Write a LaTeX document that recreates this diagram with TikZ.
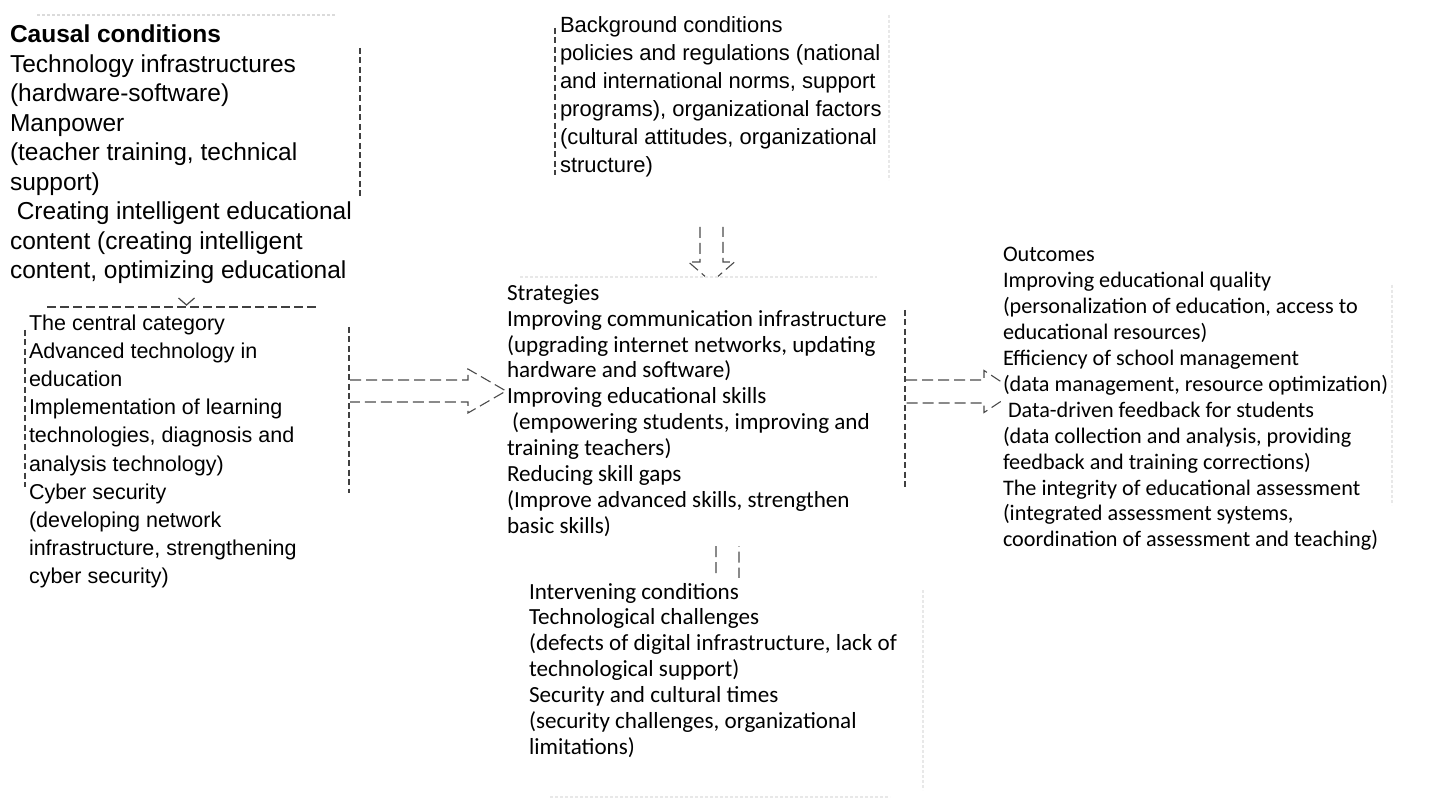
\documentclass[tikz,border=0pt]{standalone}
\usepackage{fontspec}
\setmainfont{Liberation Sans}
\newfontfamily\calibrifont{Carlito}
\usetikzlibrary{calc}

% hollow dashed block arrows: #1 start, #2 tip, #3 half shaft, #4 half head, #5 head length
\newcommand\blockarrowright[5]{%
  \draw[flow] ($(#1)+(0,-#3)$) -- ($(#2)+(-#5,-#3)$) -- ($(#2)+(-#5,-#4)$) -- (#2)
    -- ($(#2)+(-#5,#4)$) -- ($(#2)+(-#5,#3)$) -- ($(#1)+(0,#3)$);}
\newcommand\blockarrowdown[5]{%
  \draw[flow] ($(#1)+(-#3,0)$) -- ($(#2)+(-#3,-#5)$) -- ($(#2)+(-#4,-#5)$) -- (#2)
    -- ($(#2)+(#4,-#5)$) -- ($(#2)+(#3,-#5)$) -- ($(#1)+(#3,0)$);}

\begin{document}
\begin{tikzpicture}[x=1pt,y=-1pt,
  panel/.style={fill=white, draw=none, inner sep=0pt, outer sep=0pt, anchor=north west},
  txt/.style={anchor=north west, inner sep=0pt, outer sep=0pt, align=left, text=black},
  causalfont/.style={font=\fontsize{24.5pt}{29.5pt}\selectfont},
  centralfont/.style={font=\fontsize{21.5pt}{28.1pt}\selectfont},
  backfont/.style={font=\fontsize{22pt}{28pt}\selectfont},
  calfont/.style={font=\calibrifont\fontsize{23.1pt}{25.9pt}\selectfont},
  calfontsmall/.style={font=\calibrifont\fontsize{22.2pt}{25.9pt}\selectfont},
  edgeline/.style={draw=black!75, line width=1.2pt, dash pattern=on 6pt off 3.5pt},
  faint/.style={draw=black!9, line width=1.1pt, dash pattern=on 3pt off 2pt},
  flow/.style={draw=black!70, line width=1.1pt, dash pattern=on 11pt off 5pt, line join=miter},
  tipline/.style={draw=black!72, line width=1.2pt}]

\useasboundingbox (0,0) rectangle (1430,799);
\fill[white] (0,0) rectangle (1430,799);

% ---- causal conditions ----
\node[txt, causalfont] (causal) at (10,25) {\textbf{Causal conditions}\\
Technology infrastructures\\
(hardware-software)\\
Manpower\\
(teacher training, technical\\
support)\\
\ Creating intelligent educational\\
content (creating intelligent\\
content, optimizing educational};
\draw[faint, draw=black!14] (37,15) -- (335,15);
\draw[edgeline] (360,48) -- (360,200);

% ---- connector anchors ----
\coordinate (cenout) at (350,391);
\coordinate (strin)  at (506,391);
\coordinate (bgout)  at (711.5,227);
\coordinate (strtop) at (711.5,282);
\coordinate (strout) at (906,391.5);
\coordinate (outin)  at (1016,391.5);
\coordinate (strbot) at (727.5,546);
\coordinate (intop)  at (727.5,605);

% ---- flows (heads partly under the panels) ----
\blockarrowdown{bgout}{strtop}{11.5}{23}{20}
\blockarrowright{strout}{outin}{11.5}{21}{32}
\blockarrowdown{strbot}{intop}{11.5}{23}{22}

% ---- panels ----
\node[panel, minimum width=332pt, minimum height=194pt] (centralbox) at (18,306) {};
\node[panel, minimum width=399pt, minimum height=267pt] (stratbox) at (506,278) {};
\node[panel, minimum width=411pt, minimum height=230pt] (outbox) at (1001,285) {};
\node[panel, minimum width=403pt, minimum height=219pt] (intbox) at (522,578) {};

\blockarrowright{cenout}{strin}{11}{22}{38}

% causal -> central tip on the top edge
\coordinate (cc) at (186.5,305);
\draw[tipline] ($(cc)+(-8,-7)$) -- (cc) -- ($(cc)+(8,-7)$);

% ---- central category ----
\draw[edgeline, dash pattern=on 9pt off 4pt] (47,307) -- (317,307);
\draw[edgeline] (25,330) -- (25,487);
\draw[edgeline] (349,327) -- (349,493);
\node[txt, centralfont] (central) at (29,315) {The central category\\
Advanced technology in\\
education\\
Implementation of learning\\
technologies, diagnosis and\\
analysis technology)\\
Cyber security\\
(developing network\\
infrastructure, strengthening\\
cyber security)};

% ---- background conditions ----
\draw[edgeline] (555,28) -- (555,175);
\draw[faint] (889,15) -- (889,180);
\node[txt, backfont] (background) at (560,16.5) {Background conditions\\
policies and regulations (national\\
and international norms, support\\
programs), organizational factors\\
(cultural attitudes, organizational\\
structure)};

% ---- strategies ----
\draw[faint] (520,277) -- (877,277);
\draw[edgeline] (905,310) -- (905,487);
\node[txt, calfont] (strategies) at (507,284.4) {Strategies\\
Improving communication infrastructure\\
(upgrading internet networks, updating\\
hardware and software)\\
Improving educational skills\\
\ (empowering students, improving and\\
training teachers)\\
Reducing skill gaps\\
(Improve advanced skills, strengthen\\
basic skills)};

% ---- outcomes ----
\draw[faint] (1392,285) -- (1392,505);
\node[txt, calfontsmall] (outcomes) at (1003,247.5) {Outcomes\\
Improving educational quality\\
(personalization of education, access to\\
educational resources)\\
Efficiency of school management\\
(data management, resource optimization)\\
\ Data-driven feedback for students\\
(data collection and analysis, providing\\
feedback and training corrections)\\
The integrity of educational assessment\\
(integrated assessment systems,\\
coordination of assessment and teaching)};

% ---- intervening conditions ----
\draw[faint] (923,590) -- (923,790);
\draw[faint] (550,797) -- (890,797);
\node[txt, calfont] (intervening) at (529,583) {Intervening conditions\\
Technological challenges\\
(defects of digital infrastructure, lack of\\
technological support)\\
Security and cultural times\\
(security challenges, organizational\\
limitations)};

\end{tikzpicture}
\end{document}
